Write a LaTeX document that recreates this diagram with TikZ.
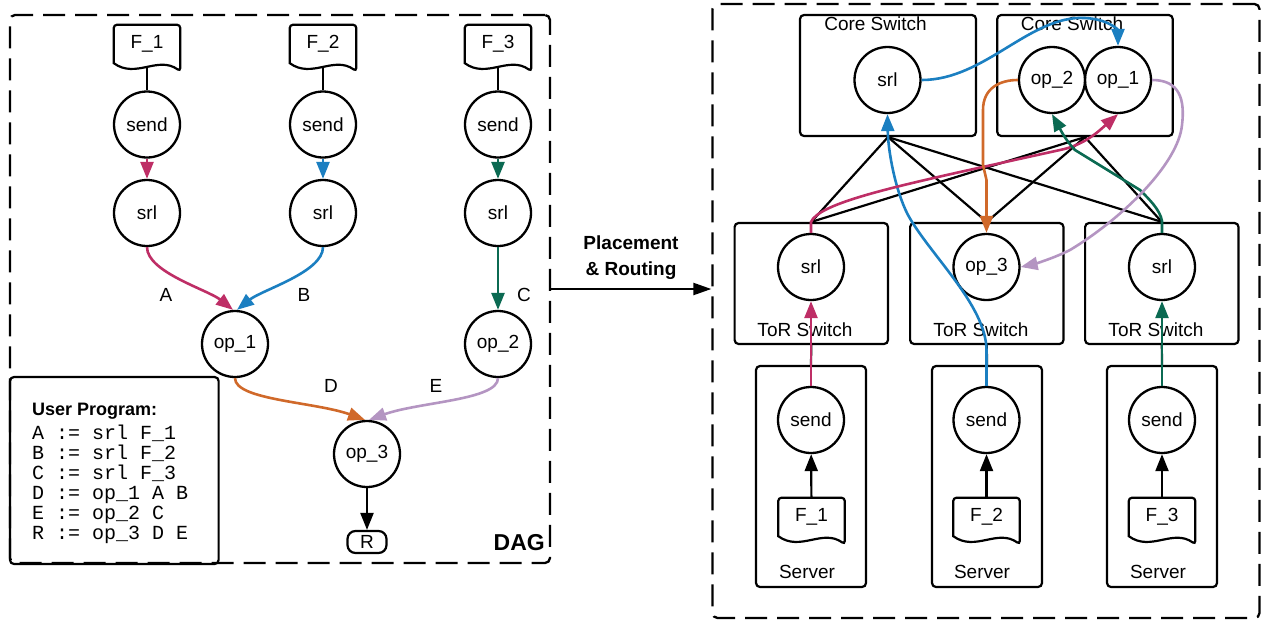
\documentclass[tikz,border=0pt]{standalone}
\usepackage{fontspec}
\setmainfont{Liberation Sans}
\newfontfamily\codefont{Liberation Mono}
\usetikzlibrary{arrows.meta,calc}
\definecolor{cmag}{HTML}{BE2E66}
\definecolor{cblu}{HTML}{1B7FC1}
\definecolor{cgrn}{HTML}{0B6A52}
\definecolor{corg}{HTML}{D0692A}
\definecolor{clil}{HTML}{B495C2}
\newcommand\docshp[1]{\draw[line width=2.2pt,rounded corners=3pt] (#1.south west) -- (#1.north west) -- (#1.north east) -- ($(#1.south east)+(0,8)$) [sharp corners] .. controls ($(#1.south west)+(44,-8)$) and ($(#1.south west)+(22,16)$) .. (#1.south west) -- cycle;}
\begin{document}
\begin{tikzpicture}[x=1pt,y=-1pt,
  every node/.style={font=\fontsize{19}{22}\selectfont},
  circ/.style={draw, circle, line width=2.3pt, minimum size=66pt, inner sep=0pt},
  box/.style={draw, rectangle, rounded corners=4pt, line width=2.2pt, inner sep=0pt},
  dbox/.style={draw, rectangle, rounded corners=5pt, line width=2.3pt, dash pattern=on 22pt off 10pt, inner sep=0pt},
  docn/.style={minimum width=66pt, minimum height=38pt, inner sep=0pt},
  lnk/.style={line width=2.2pt, black},
  arr/.style={-{Triangle[length=17pt,width=13pt]}},
  ce/.style={line width=2.6pt, arr},
  codeln/.style={anchor=base west, inner sep=0pt, font=\codefont\fontsize{20}{20}\selectfont},
]
\useasboundingbox (0,0) rectangle (1261,622);

% ---------- left: DAG ----------
\node[dbox, minimum width=540pt, minimum height=548pt] (dag) at (280,289) {};
\node[box, minimum width=208.6pt, minimum height=187pt] (prog) at (114.3,470.5) {};

\node[docn] (f1) at (147,44) {F\_1};
\node[docn] (f2) at (323,44) {F\_2};
\node[docn] (f3) at (498,44) {F\_3};
\docshp{f1}\docshp{f2}\docshp{f3}

\node[circ] (s1) at (147,124.5) {send};
\node[circ] (s2) at (323,124.5) {send};
\node[circ] (s3) at (498,124.5) {send};
\node[circ] (r1) at (147,213) {srl};
\node[circ] (r2) at (323,213) {srl};
\node[circ] (r3) at (498,213) {srl};
\node[circ] (o1) at (235,344) {op\_1};
\node[circ] (o2) at (498,344) {op\_2};
\node[circ] (o3) at (367,454) {op\_3};
\node[draw, rounded corners=8pt, line width=2.2pt, minimum width=39pt, minimum height=22pt, inner sep=0pt] (res) at (367,542) {R};

\foreach \i in {1,2,3} \draw[lnk] ($(f\i.south)+(0,4)$) -- (s\i.north);
\draw[ce,cmag] (s1) -- (r1);
\draw[ce,cblu] (s2) -- (r2);
\draw[ce,cgrn] (s3) -- (r3);
\draw[ce,cmag] (r1.south) .. controls +(0,25) and +(-25,-20) .. ([xshift=-2pt]o1.north);
\draw[ce,cblu] (r2.south) .. controls +(0,25) and +(25,-20) .. ([xshift=2pt]o1.north);
\draw[ce,cgrn] (r3) -- (o2);
\draw[ce,corg] (o1.south) .. controls +(0,22) and +(-50,-18) .. ([xshift=-2pt]o3.north);
\draw[ce,clil] (o2.south) .. controls +(0,22) and +(50,-18) .. ([xshift=2pt]o3.north);
\draw[lnk,arr] (o3) -- (res);

\node (la) at (166,295) {A};
\node (lb) at (304,295) {B};
\node (lc) at (524,295) {C};
\node (ld) at (331,386) {D};
\node (le) at (436,386) {E};
\node[anchor=east, inner sep=0pt, font=\bfseries\fontsize{23}{26}\selectfont] (dagl) at (545,543) {DAG};

\node[anchor=base west, inner sep=0pt, font=\bfseries\fontsize{18}{20}\selectfont] (ptitle) at (32,415) {User Program:};
\foreach \t [count=\i] in {{A := srl F\_1},{B := srl F\_2},{C := srl F\_3},{D := op\_1 A B},{E := op\_2 C},{R := op\_3 D E}}
  \node[codeln] (pc\i) at (32,{439+20*(\i-1)}) {\t};

% ---------- middle ----------
\node[dbox, minimum width=547pt, minimum height=614pt] (net) at (986,311) {};
\node[align=center, font=\bfseries\fontsize{19}{26}\selectfont] (pr) at (631,258) {Placement\\ \& Routing};
\draw[lnk, -{Triangle[length=18pt,width=12pt]}] (dag.east) -- (dag.east -| net.west);

% ---------- right: network ----------
\node[box, minimum width=176pt, minimum height=121pt] (c1) at (888,75.5) {};
\node[box, minimum width=175.5pt, minimum height=121pt] (c2) at (1085,75.5) {};
\node (cl1) at (875.5,24) {Core Switch};
\node (cl2) at (1072,24) {Core Switch};

\node[box, minimum width=153.4pt, minimum height=121pt] (t1) at (811.3,283.5) {};
\node[box, minimum width=153.4pt, minimum height=121pt] (t2) at (986.8,283.5) {};
\node[box, minimum width=153.4pt, minimum height=121pt] (t3) at (1161.8,283.5) {};
\node (tl1) at (805,330) {ToR Switch};
\node (tl2) at (981,330) {ToR Switch};
\node (tl3) at (1156,330) {ToR Switch};

\node[box, minimum width=110pt, minimum height=221pt] (sv1) at (811,476.5) {};
\node[box, minimum width=110pt, minimum height=221pt] (sv2) at (987,476.5) {};
\node[box, minimum width=110pt, minimum height=221pt] (sv3) at (1162,476.5) {};
\node (sl1) at (807,572) {Server};
\node (sl2) at (982,572) {Server};
\node (sl3) at (1158,572) {Server};

\foreach \c in {c1,c2} \foreach \t in {t1,t2,t3} \draw[lnk] (\c.south) -- (\t.north);
\foreach \i in {1,2,3} \draw[lnk] (t\i.south) -- (sv\i.north);

\node[circ] (srlc) at (887.5,80) {srl};
\node[circ] (op2c) at (1052,80) {op\_2};
\node[circ] (op1c) at (1118,80) {op\_1};
\node[circ] (tr1) at (811,267) {srl};
\node[circ] (op3t) at (986.5,267) {op\_3};
\node[circ] (tr3) at (1162,267) {srl};
\node[circ] (sd1) at (811,420) {send};
\node[circ] (sd2) at (986.5,420) {send};
\node[circ] (sd3) at (1162,420) {send};
\node[docn] (fd1) at (811.5,517) {F\_1};
\node[docn] (fd2) at (986.5,517) {F\_2};
\node[docn] (fd3) at (1162,517) {F\_3};
\docshp{fd1}\docshp{fd2}\docshp{fd3}

\foreach \i in {1,2,3} \draw[lnk,arr] (fd\i) -- (sd\i);
\draw[ce,cmag] (sd1) -- (tr1);
\draw[ce,cgrn] (sd3) -- (tr3);
\draw[ce,cblu] (sd2.north) -- (986.5,350) .. controls (986,305) and (930,255) .. (908,215) .. controls (895,190) and (888,150) .. (srlc.south);
\draw[ce,cmag] (tr1.north) -- (811,222) .. controls (818,205) and (880,190) .. (960,172) -- (1060,150) .. controls (1085,145) and (1100,130) .. (op1c.south);
\draw[ce,cgrn] (tr3.north) -- (1162,221) .. controls (1160,210) and (1150,200) .. (1140,190) -- (1075,150) .. controls (1065,140) and (1058,125) .. (op2c.south);
\draw[ce,corg] (op2c.west) .. controls (1000,80) and (983,88) .. (983,110) -- (983,165) -- (986.5,180) -- (op3t.north);
\draw[ce,clil] (op1c.east) .. controls (1180,80) and (1185,100) .. (1182,125) .. controls (1178,165) and (1120,220) .. (1070,250) .. controls (1050,260) and (1030,265) .. (op3t.east);
\draw[ce,cblu] (srlc.east) .. controls (985,80) and (1030,15) .. (1085,18) .. controls (1108,19) and (1118,30) .. (op1c.north);
\end{tikzpicture}
\end{document}
